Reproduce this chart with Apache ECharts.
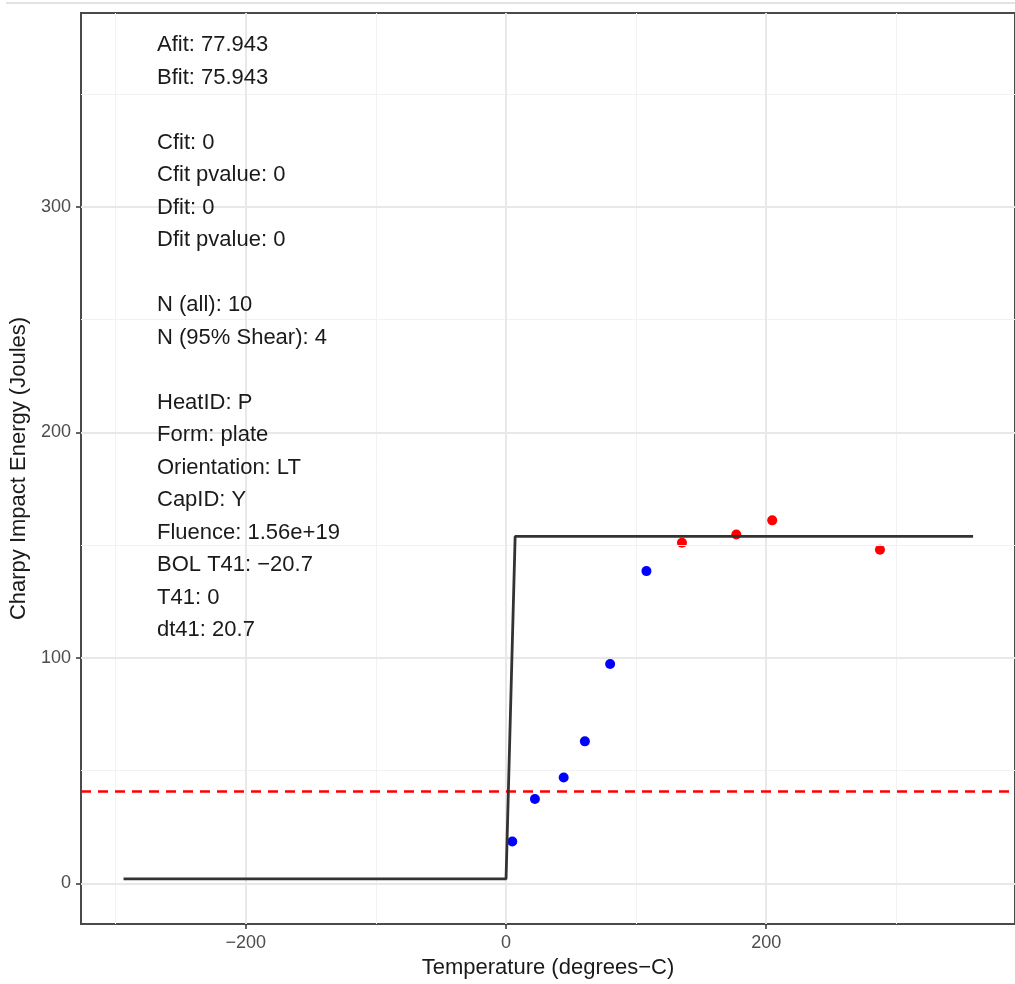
<!DOCTYPE html>
<html>
<head>
<meta charset="utf-8">
<script src="https://cdn.jsdelivr.net/npm/echarts@6/dist/echarts.min.js"></script>
<style>
html,body{margin:0;padding:0;background:#fff;}
#chart{width:1015px;height:984px;}
</style>
</head>
<body>
<div id="chart"></div>
<script>
// ---- data ----
const blueTemp = [4.8, 22.2, 44.3, 60.6, 80.0, 107.9];
const blueEnergy = [18.6, 37.4, 47.0, 63.0, 97.3, 138.5];
const redTemp = [135.2, 177.0, 204.6, 287.4];
const redEnergy = [151.1, 154.7, 161.0, 148.0];
const fitTemp = [-294, 0, 7, 359];
const fitEnergy = [2, 2, 153.886, 153.886];
const refEnergy = 41;
const xMajorTicks = [-200, 0, 200];
const xMinorGrid = [-300, -100, 100, 300];
const yMajorTicks = [0, 100, 200, 300];
const yMinorGrid = [50, 150, 250, 350];
const annotationLines = [
  'Afit: 77.943', 'Bfit: 75.943', '',
  'Cfit: 0', 'Cfit pvalue: 0', 'Dfit: 0', 'Dfit pvalue: 0', '',
  'N (all): 10', 'N (95% Shear): 4', '',
  'HeatID: P', 'Form: plate', 'Orientation: LT', 'CapID: Y',
  'Fluence: 1.56e+19', 'BOL T41: \u221220.7', 'T41: 0', 'dt41: 20.7'
];
const xTitle = 'Temperature (degrees\u2212C)';
const yTitle = 'Charpy Impact Energy (Joules)';

const pair = (a, b) => a.map((v, i) => [v, b[i]]);
const FONT = '"Liberation Sans", Arial, sans-serif';

const gridLines = [];
xMinorGrid.forEach(v => gridLines.push({ xAxis: v, lineStyle: { color: '#f2f2f2', width: 1, type: 'solid' } }));
yMinorGrid.forEach(v => gridLines.push({ yAxis: v, lineStyle: { color: '#f2f2f2', width: 1, type: 'solid' } }));
xMajorTicks.forEach(v => gridLines.push({ xAxis: v, lineStyle: { color: '#e8e8e8', width: 2, type: 'solid' } }));
yMajorTicks.forEach(v => gridLines.push({ yAxis: v, lineStyle: { color: '#e8e8e8', width: 2, type: 'solid' } }));

const chart = echarts.init(document.getElementById('chart'), null, { renderer: 'canvas' });
chart.setOption({
  animation: false,
  backgroundColor: '#ffffff',
  textStyle: { fontFamily: FONT },
  grid: {
    left: 81, top: 13, width: 935, height: 911,
    show: true, borderColor: '#4a4a4a', borderWidth: 2, backgroundColor: '#ffffff'
  },
  xAxis: {
    type: 'value', min: -326.7, max: 391.2,
    name: xTitle, nameLocation: 'middle', nameGap: 33,
    nameTextStyle: { fontSize: 22, color: '#1a1a1a', fontFamily: FONT },
    axisLine: { show: false, onZero: false },
    splitLine: { show: false },
    axisTick: { show: true, inside: false, customValues: xMajorTicks, length: 5, lineStyle: { color: '#333', width: 1.5 } },
    axisLabel: { customValues: xMajorTicks, color: '#4d4d4d', fontSize: 18, margin: 10, fontFamily: FONT,
      formatter: v => (v < 0 ? '\u2212' + Math.abs(v) : String(v)) }
  },
  yAxis: {
    type: 'value', min: -18.0, max: 386.0,
    name: yTitle, nameLocation: 'middle', nameGap: 48, nameRotate: 90,
    nameTextStyle: { fontSize: 22, color: '#1a1a1a', fontFamily: FONT },
    axisLine: { show: false, onZero: false },
    splitLine: { show: false },
    axisTick: { show: true, inside: false, customValues: yMajorTicks, length: 5, lineStyle: { color: '#333', width: 1.5 } },
    axisLabel: { customValues: yMajorTicks, color: '#4d4d4d', fontSize: 18, margin: 10, fontFamily: FONT }
  },
  graphic: [
    { type: 'rect', z: 100, shape: { x: 6, y: 2, width: 1009, height: 2 }, style: { fill: '#e3e3e3' }, silent: true },
    { type: 'text', z: 100, left: 157, top: 28.75, silent: true,
      style: { text: annotationLines.join('\n'), fontSize: 22, lineHeight: 32.5, fill: '#1a1a1a', fontFamily: FONT } }
  ],
  series: [
    {
      name: 'grid', type: 'line', data: [], silent: true,
      markLine: { silent: true, symbol: ['none', 'none'], label: { show: false }, animation: false, data: gridLines },
      z: 0
    },
    {
      name: 'ref41', type: 'line', data: [], silent: true,
      markLine: { silent: true, symbol: ['none', 'none'], label: { show: false }, animation: false,
        data: [{ yAxis: refEnergy }], lineStyle: { color: '#ff0000', width: 2.5, type: [10, 7] } },
      z: 3
    },
    {
      name: 'below', type: 'scatter', data: pair(blueTemp, blueEnergy),
      symbol: 'circle', symbolSize: 10, itemStyle: { color: '#0000ff', opacity: 1 }, z: 4
    },
    {
      name: 'above', type: 'scatter', data: pair(redTemp, redEnergy),
      symbol: 'circle', symbolSize: 10, itemStyle: { color: '#ff0000', opacity: 1 }, z: 4
    },
    {
      name: 'fit', type: 'line', data: pair(fitTemp, fitEnergy),
      showSymbol: false, symbol: 'none', lineStyle: { color: '#333333', width: 2.8 }, z: 5
    }
  ]
});
</script>
</body>
</html>
